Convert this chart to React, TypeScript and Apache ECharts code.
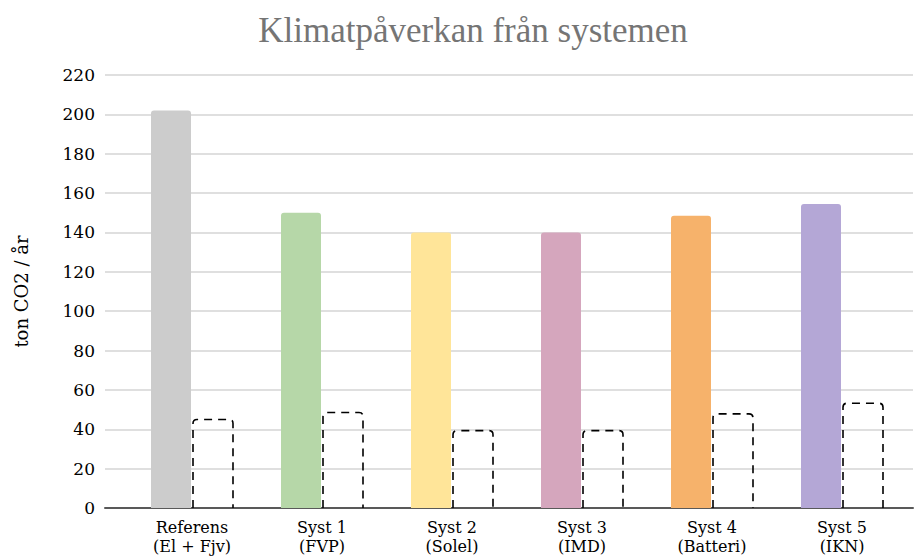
import React, { useEffect, useRef } from "react";
import * as echarts from "echarts";

const categories = ["Referens\n(El + Fjv)", "Syst 1\n(FVP)", "Syst 2\n(Solel)", "Syst 3\n(IMD)", "Syst 4\n(Batteri)", "Syst 5\n(IKN)"];
const totalValues = [202, 150, 140, 140, 148.5, 154.5];
const dashedValues = [45, 48.5, 39.3, 39.3, 47.8, 53.2];
const barColors = ["#CCCCCC", "#B6D7A8", "#FFE599", "#D5A6BD", "#F6B26B", "#B4A7D6"];
const yTicks = { min: 0, max: 220, interval: 20 };

const TITLE_FONT = "Liberation Serif";
const FONT = "DejaVu Serif";

export default function App() {
  const ref = useRef<HTMLDivElement>(null);
  useEffect(() => {
    if (!ref.current) return;
    const chart = echarts.init(ref.current, null, { renderer: "svg" });
    chart.setOption({
      animation: false,
      backgroundColor: "#ffffff",
      textStyle: { fontFamily: FONT },
      title: {
        text: "Klimatpåverkan från systemen",
        left: 468,
        textAlign: "center",
        top: 8,
        textStyle: { fontFamily: TITLE_FONT, fontSize: 35, fontWeight: "normal", color: "#757575" },
      },
      grid: [
        { left: 105, right: 2, top: 75, bottom: 48, containLabel: false },
        { left: 127, right: 8, top: 75, bottom: 48, containLabel: false },
      ],
      xAxis: [
        {
          gridIndex: 0,
          type: "value",
          min: 0,
          max: 1,
          axisLabel: { show: false },
          axisTick: { show: false },
          splitLine: { show: false },
          axisLine: { show: true, lineStyle: { color: "#595959", width: 2 } },
        },
        {
          gridIndex: 1,
          type: "category",
          data: categories,
          axisLine: { show: false },
          axisTick: { show: false },
          axisLabel: { fontFamily: FONT, fontSize: 16, color: "#000", lineHeight: 19, margin: 10 },
        },
      ],
      yAxis: [
        {
          gridIndex: 0,
          type: "value",
          min: yTicks.min,
          max: yTicks.max,
          interval: yTicks.interval,
          name: "ton CO2 / år",
          nameLocation: "middle",
          nameGap: 75,
          nameRotate: 90,
          nameTextStyle: { fontFamily: FONT, fontSize: 18, color: "#000" },
          axisLine: { show: false },
          axisTick: { show: false },
          axisLabel: { fontFamily: FONT, fontSize: 17, color: "#000", margin: 10 },
          splitLine: { show: true, lineStyle: { color: "#D4D4D4", width: 1.5 } },
        },
        {
          gridIndex: 1,
          type: "value",
          min: yTicks.min,
          max: yTicks.max,
          interval: yTicks.interval,
          show: false,
          splitLine: { show: false },
        },
      ],
      series: [
        {
          type: "bar",
          xAxisIndex: 1,
          yAxisIndex: 1,
          barWidth: 40,
          barGap: "5%",
          data: totalValues.map((v, i) => ({
            value: v,
            itemStyle: { color: barColors[i], borderRadius: [3, 3, 0, 0] },
          })),
        },
        {
          type: "bar",
          xAxisIndex: 1,
          yAxisIndex: 1,
          barWidth: 40,
          silent: true,
          data: dashedValues,
          itemStyle: { color: "rgba(0,0,0,0)" },
        },
        {
          type: "custom",
          xAxisIndex: 1,
          yAxisIndex: 1,
          z: 3,
          data: dashedValues.map((v, i) => [i, v]),
          renderItem: (params: any, api: any) => {
            const top = api.coord([api.value(0), api.value(1)]);
            const base = api.coord([api.value(0), 0]);
            const x0 = top[0] + 1;
            const x1 = top[0] + 41;
            const yt = top[1];
            const yb = base[1];
            const r = 4;
            const d = `M ${x0} ${yb} L ${x0} ${yt + r} Q ${x0} ${yt} ${x0 + r} ${yt} L ${x1 - r} ${yt} Q ${x1} ${yt} ${x1} ${yt + r} L ${x1} ${yb}`;
            return {
              type: "path",
              shape: { pathData: d },
              style: { fill: "none", stroke: "#000", lineWidth: 1.6, lineDash: [8, 6] },
            };
          },
        },
      ],
    });
    return () => chart.dispose();
  }, []);
  return <div ref={ref} style={{ position: "fixed", left: 0, top: 0, width: 915, height: 556 }} />;
}
